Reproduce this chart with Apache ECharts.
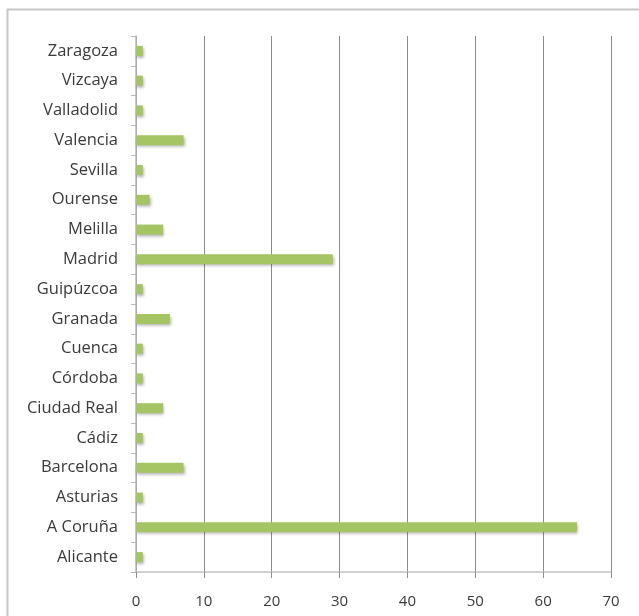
<!DOCTYPE html>
<html>
<head>
<meta charset="utf-8">
<script src="https://cdn.jsdelivr.net/npm/echarts@6/dist/echarts.min.js"></script>
<style>html,body{margin:0;padding:0;background:#fff;}#c{width:639px;height:616px;}</style>
</head>
<body>
<div id="c"></div>
<script>
const categories = ["Alicante","A Coruña","Asturias","Barcelona","Cádiz","Ciudad Real","Córdoba","Cuenca","Granada","Guipúzcoa","Madrid","Melilla","Ourense","Sevilla","Valencia","Valladolid","Vizcaya","Zaragoza"];
const values = [1,65,1,7,1,4,1,1,5,1,29,4,2,1,7,1,1,1];
const xTicks = {min:0, max:70, interval:10};

const chart = echarts.init(document.getElementById('c'), null, {renderer:'canvas'});
chart.setOption({
  animation:false,
  backgroundColor:'#fff',
  graphic:[{type:'rect', shape:{x:7.5,y:9.5,width:700,height:700}, style:{fill:'none', stroke:'#c6c6c6', lineWidth:2}}],
  grid:{left:136, right:28, top:36, bottom:44, containLabel:false},
  xAxis:{type:'value', min:xTicks.min, max:xTicks.max, interval:xTicks.interval,
    axisLine:{show:true, lineStyle:{color:'#c4c4c4', width:1.5}},
    axisTick:{show:true, length:6, lineStyle:{color:'#8c8c8c'}},
    splitLine:{show:true, lineStyle:{color:'#8c8c8c', width:1}},
    axisLabel:{color:'#3a3a3a', fontFamily:'Open Sans', fontSize:15, margin:22}},
  yAxis:{type:'category', data:categories,
    axisLine:{show:true, lineStyle:{color:'#b8b8b8', width:1.5}},
    axisTick:{show:true, length:5, lineStyle:{color:'#b8b8b8'}},
    axisLabel:{color:'#3a3a3a', fontFamily:'Open Sans', fontSize:16.5, margin:18}},
  series:[{type:'bar', data:values, barWidth:10,
    itemStyle:{color:'#a5c464', shadowColor:'rgba(0,0,0,0.3)', shadowBlur:3, shadowOffsetX:1, shadowOffsetY:2}}]
});
</script>
</body>
</html>
